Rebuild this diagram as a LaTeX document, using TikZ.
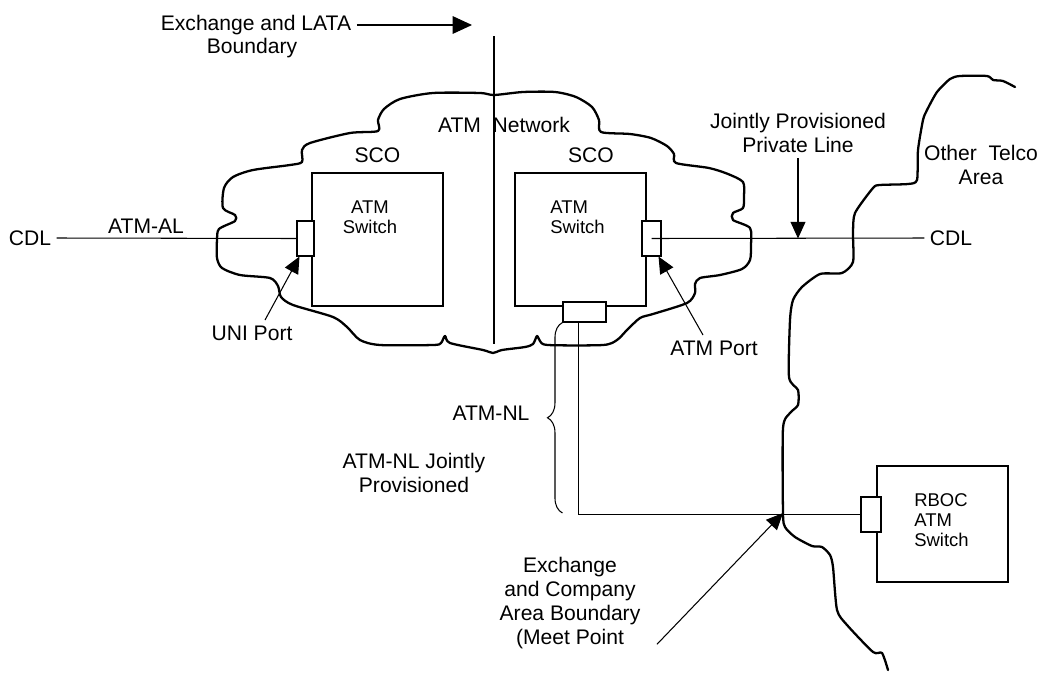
\documentclass[tikz,border=0pt]{standalone}
\usepackage{fontspec}
\setmainfont{Liberation Sans}
\usetikzlibrary{positioning, arrows.meta, calc, decorations.pathreplacing}

\begin{document}
\begin{tikzpicture}[
    x=0.02cm, y=-0.02cm,
    txt/.style={
        font=\fontsize{12}{13.6}\selectfont,
        align=center,
        inner sep=3pt
    },
    swtxt/.style={font=\fontsize{10.5}{11.4}\selectfont, inner sep=0pt},
    switchbox/.style={draw, line width=1.1pt, inner sep=0pt},
    port/.style={draw, fill=white, line width=0.6pt, inner sep=0pt},
    wire/.style={line width=0.6pt},
    arrow/.style={-{Triangle[length=9.5pt, width=8.5pt]}, line width=0.6pt},
    border/.style={line width=1.3pt, line join=round, line cap=round}
]
\useasboundingbox (0,0) rectangle (1037,673);

% --- Boundaries ---
\coordinate (latatop) at (494,36);
\coordinate (latabot) at (494,344);
\draw[wire] (latatop) -- (latabot);

\draw[border] plot[smooth cycle, tension=0.45] coordinates {
    (494,95) (523,92) (555,92) (576,97) (592,107) (599,120) (601,132)
    (630,134) (651,138) (667,146) (674,154) (676,163) (709,168) (728,174)
    (743,182) (744,196) (743,208) (733,213) (733,220) (750,228) (751,245)
    (750,260) (742,269) (720,275) (700,278) (695,284) (695,293) (687,303)
    (653,314) (640,318) (627,330) (617,340) (603,345) (548,345) (540,341)
    (537,336) (533,344) (525,347) (502,350) (493,353) (483,350) (450,343)
    (445,336) (441,343) (433,345) (380,345) (360,340) (347,327) (333,317)
    (293,305) (281,297) (278,286) (270,278) (240,275) (222,268) (217,258)
    (217,240) (219,229) (235,221) (235,215) (223,208) (224,188) (233,177)
    (253,170) (290,165) (302,162) (302,150) (310,143) (350,133) (378,131)
    (378,120) (384,109) (400,99) (433,93) (480,93)};

\coordinate (meet) at (783,513);
\draw[border] plot[smooth, tension=0.4] coordinates {
    (1015,87) (1003,81) (993,80) (987,76) (960,76) (950,79) (937,92)
    (927,110) (923,120) (918,150) (917,180) (908,184) (880,185) (873,188)
    (855,213) (853,233) (853,262) (842,273) (820,274) (802,287) (793,300)
    (790,320) (789,377) (798,390) (798,405) (790,413) (783,428) (783,513)
    (785,527) (795,537) (812,546) (822,547) (830,555) (833,567) (837,610)
    (847,625) (873,652) (882,653) (888,670)};

% --- Switches ---
\node[switchbox, minimum width=2.62cm, minimum height=2.66cm] (sw1) at (377.5,239.5) {};
\node[switchbox, minimum width=2.62cm, minimum height=2.66cm] (sw2) at (580.5,239.5) {};
\node[switchbox, minimum width=2.62cm, minimum height=2.32cm] (rboc) at (942.5,524) {};

\node[swtxt, align=center] (sw1t) at (370,217) {ATM\\Switch};
\node[swtxt, align=left, anchor=west] (sw2t) at (550,217) {ATM\\Switch};
\node[swtxt, align=left, anchor=west] (rbt) at (914,520) {RBOC\\ATM\\Switch};

% --- Ports ---
\node[port, minimum width=0.34cm, minimum height=0.7cm] (uni) at (305.5,238.5) {};
\node[port, minimum width=0.38cm, minimum height=0.7cm] (atmp) at (651.5,238.5) {};
\node[port, minimum width=0.86cm, minimum height=0.4cm] (nlp) at (584.5,312) {};
\node[port, minimum width=0.4cm, minimum height=0.7cm] (rbp) at (871,514.5) {};

% --- Labels ---
\node[txt] (lataA) at (256,25) {Exchange and LATA};
\node[txt] (lataB) at (252,48) {Boundary};
\node[txt] (net) at (504,125) {ATM~~Network};
\node[txt, above=2pt of sw1] (sco1) {SCO};
\node[txt, above=2pt of sw2, xshift=0.21cm] (sco2) {SCO};
\node[txt] (cdl1) at (30,238) {CDL};
\node[txt] (atmal) at (146,226) {ATM-AL};
\node[txt] (unit) at (252,333) {UNI Port};
\node[txt] (atmt) at (714,348) {ATM Port};
\node[txt] (jp) at (798,133) {Jointly Provisioned\\Private Line};
\node[txt] (cdl2) at (951,238) {CDL};
\node[txt] (telco) at (981,165) {Other~~Telco\\Area};
\node[txt] (atmnl) at (491,413) {ATM-NL};
\node[txt] (nljp) at (414,473) {ATM-NL Jointly\\Provisioned};
\node[txt] (mp) at (570,603) {Exchange\\and Company\\Area Boundary\\(Meet Point};

% --- Lines ---
\draw[wire] (cdl1.east) -- (uni.west);
\draw[wire] (atmp.center) -- (cdl2.west);
\draw[wire] ($(nlp.south)+(-6,0)$) |- (rbp.west);
\draw[wire, decorate, decoration={brace, amplitude=0.3cm}]
    (nlp.south west |- meet) -- (nlp.south west);

% --- Arrows ---
\coordinate (lataend) at (472,27);
\draw[wire, -{Triangle[length=11pt, width=10pt]}] (lataA.east) -- (lataA.east -| lataend);
\draw[arrow] (jp.south) -- (jp.south |- atmp.center);
\draw[arrow] ($(unit.north)+(13,0)$) -- ($(uni.south west)+(3,0)$);
\draw[arrow] ($(atmt.north)+(-11,0)$) -- ($(atmp.south east)+(-3,0)$);
\draw[arrow] ($(mp.south east)+(11,-10)$) -- (meet);

\end{tikzpicture}
\end{document}
